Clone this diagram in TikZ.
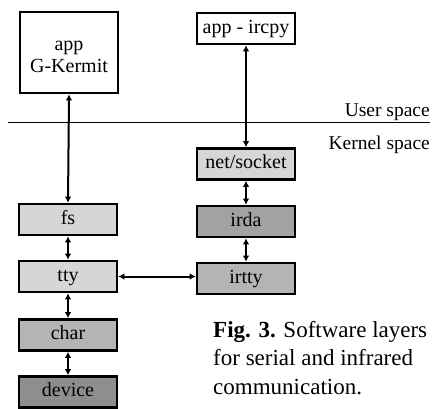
\documentclass[tikz,border=0pt]{standalone}
\usepackage{fontspec}
\setmainfont{Liberation Serif}
\usetikzlibrary{arrows.meta}
\definecolor{lightg}{HTML}{D6D6D6}
\definecolor{midg}{HTML}{B4B4B4}
\definecolor{darkg}{HTML}{8E8E8E}
\begin{document}
\begin{tikzpicture}[x=1pt,y=1pt,
  layer/.style={draw, line width=2.6pt, minimum width=98pt, minimum height=31pt,
    inner sep=0pt, text height=13pt, text depth=4pt,
    font=\fontsize{20}{24}\selectfont},
  conn/.style={line width=2pt, {Latex[length=6pt,width=6.5pt]}-{Latex[length=6pt,width=6.5pt]}},
  lbl/.style={font=\fontsize{19.5}{23}\selectfont, inner sep=0pt}]
\useasboundingbox (0,0) rectangle (433,-408);
% left column
\node[layer, minimum height=81pt, align=center, text height=44pt, text depth=5pt,
  font=\fontsize{20}{22}\selectfont] (gk) at (69,-52.5) {app\\G-Kermit};
\node[layer, fill=lightg] (fs) at (68,-219.5) {fs};
\node[layer, fill=lightg] (tty) at (68,-276.5) {tty};
\node[layer, fill=midg] (char) at (68,-335) {char};
\node[layer, fill=darkg] (dev) at (68,-392) {device};
% right column
\node[layer] (irc) at (246,-28.5) {app - ircpy};
\node[layer, fill=lightg] (net) at (246,-164) {net/socket};
\node[layer, fill=midg!90!black] (irda) at (246,-221.5) {irda};
\node[layer, fill=midg] (irtty) at (246,-278.5) {irtty};
% user/kernel separator
\coordinate (sepL) at (8,-122);
\coordinate (sepR) at (430,-122);
\draw[line width=1pt] (sepL) -- (sepR);
\node[lbl, anchor=base east] (us) at (430,-116) {User space};
\node[lbl, anchor=base east] (ks) at (430,-149) {Kernel space};
% connectors
\draw[conn] (gk.south) -- (fs.north);
\draw[conn] (fs.south) -- (tty.north);
\draw[conn] (tty.south) -- (char.north);
\draw[conn] (char.south) -- (dev.north);
\draw[conn] (irc.south) -- (net.north);
\draw[conn] (net.south) -- (irda.north);
\draw[conn] (irda.south) -- (irtty.north);
\draw[conn] (tty.east) -- (tty.east -| irtty.west);
% caption
\node[anchor=base west, align=left, inner sep=0pt,
  font=\fontsize{23}{28.5}\selectfont] (cap) at (213,-394)
  {\textbf{Fig. 3.} Software layers\\for serial and infrared\\communication.};
\end{tikzpicture}
\end{document}
